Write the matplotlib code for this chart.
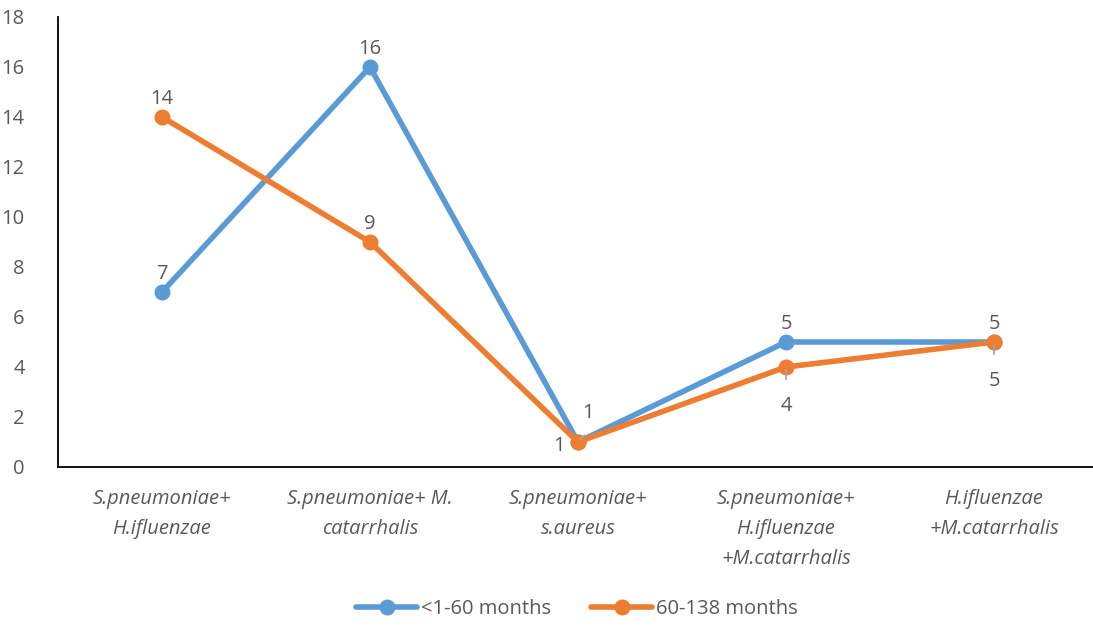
import matplotlib.pyplot as plt

plt.rcParams['font.family'] = ['Open Sans', 'DejaVu Sans']

categories = [
    "S.pneumoniae+\nH.ifluenzae",
    "S.pneumoniae+ M.\ncatarrhalis",
    "S.pneumoniae+\ns.aureus",
    "S.pneumoniae+\nH.ifluenzae\n+M.catarrhalis",
    "H.ifluenzae\n+M.catarrhalis",
]
young = [7, 16, 1, 5, 5]
older = [14, 9, 1, 4, 5]
y_ticks = [0, 2, 4, 6, 8, 10, 12, 14, 16, 18]

BLUE = "#5B9BD5"
ORANGE = "#ED7D31"
GREY = "#595959"
FS = 14.5

fig = plt.figure(figsize=(10.93, 6.26), dpi=100)
ax = fig.add_axes([58 / 1093, 159 / 626, 1040 / 1093, 450 / 626])

x = list(range(len(categories)))
ax.plot(x, young, color=BLUE, lw=4, marker="o", ms=10.5, label="<1-60 months",
        solid_capstyle="round", zorder=3)
ax.plot(x, older, color=ORANGE, lw=4, marker="o", ms=10.5, label="60-138 months",
        solid_capstyle="round", zorder=4)

# data labels: (dx, dy) offsets in points, and whether a leader line is drawn
young_pos = [(0, 13), (0, 13), (7, 21), (0, 13), (0, 13)]
older_pos = [(0, 13), (0, 13), (-14, -3), (0, -28), (0, -28)]
older_leader = [False, False, False, True, True]

for i, v in enumerate(young):
    dx, dy = young_pos[i]
    ax.annotate(str(v), (i, v), xytext=(dx, dy), textcoords="offset points",
                ha="center", va="center", fontsize=FS, color=GREY, zorder=6)
for i, v in enumerate(older):
    dx, dy = older_pos[i]
    ax.annotate(str(v), (i, v), xytext=(dx, dy), textcoords="offset points",
                ha="center", va="center", fontsize=FS, color=GREY, zorder=6)
    if older_leader[i]:
        ax.annotate("", (i, v), xytext=(i, v - 0.6), textcoords="data",
                    arrowprops=dict(arrowstyle="-", color="#A6A6A6", lw=1.3),
                    zorder=7)
# small leader for the blue label at the third point
ax.annotate("", (2, 1), xytext=(2.04, 1.35), textcoords="data",
            arrowprops=dict(arrowstyle="-", color="#A6A6A6", lw=1.3), zorder=7)

ax.set_xlim(-0.5, 4.5)
ax.set_ylim(0, 18)
ax.set_yticks(y_ticks)
ax.set_xticks(x)
ax.set_xticklabels(categories, fontsize=FS, style="italic", color=GREY,
                   linespacing=1.65, va="top")
ax.tick_params(axis="y", length=0, labelsize=FS, labelcolor=GREY, pad=24)
ax.tick_params(axis="x", length=0, pad=16)

for s in ["top", "right"]:
    ax.spines[s].set_visible(False)
for s in ["left", "bottom"]:
    ax.spines[s].set_color("black")
    ax.spines[s].set_linewidth(1.3)

ax.legend(loc="center", bbox_to_anchor=(519 / 1040, -0.315), ncol=2, frameon=False,
          fontsize=FS, labelcolor=GREY, handlelength=3.0, handletextpad=0.2,
          columnspacing=2.0)

fig.savefig("out.png", dpi=100)
